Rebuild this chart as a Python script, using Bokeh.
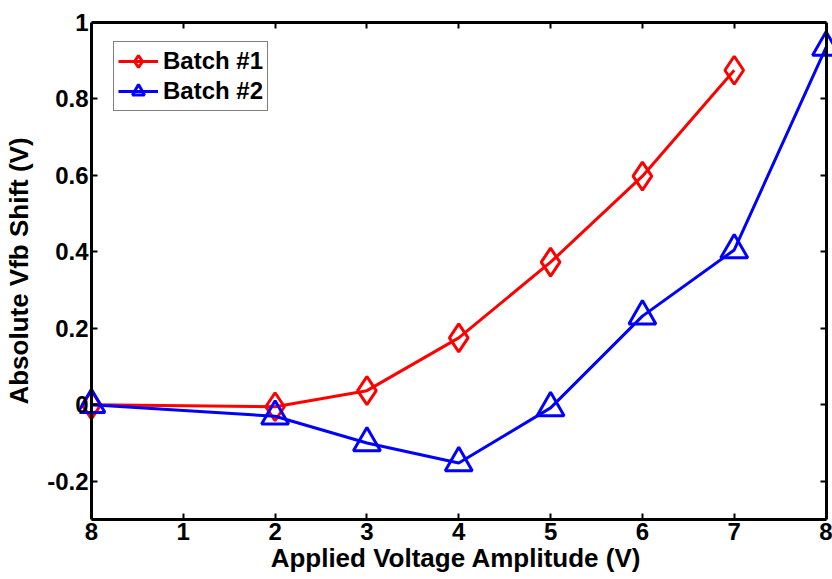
from bokeh.plotting import figure
from bokeh.models import LinearAxis, FixedTicker, Range1d, Legend, LegendItem
from bokeh.embed import file_html
from bokeh.resources import INLINE

x1 = [0, 2, 3, 4, 5, 6, 7]
batch1 = [0.0, -0.005, 0.037, 0.175, 0.373, 0.598, 0.875]
x2 = [0, 2, 3, 4, 5, 6, 7, 8]
batch2 = [0.0, -0.03, -0.10, -0.152, -0.008, 0.232, 0.405, 0.935]
xticks = [0, 1, 2, 3, 4, 5, 6, 7, 8]
xtick_labels = ["8", "1", "2", "3", "4", "5", "6", "7", "8"]
yticks = [-0.2, 0, 0.2, 0.4, 0.6, 0.8, 1]
ytick_labels = ["-0.2", "0", "0.2", "0.4", "0.6", "0.8", "1"]

FONT = "Liberation Sans"

p = figure(width=832, height=579, output_backend="svg", toolbar_location=None,
           x_range=Range1d(-0.13, 8.07), y_range=Range1d(-0.3, 1.0),
           min_border_left=79, min_border_right=0, min_border_top=22, min_border_bottom=60,
           x_axis_type=None, y_axis_type=None)
p.grid.visible = False
p.outline_line_color = None
p.background_fill_color = "white"
p.border_fill_color = "white"


def style_axis(ax, labels):
    ax.axis_line_color = "black"
    ax.axis_line_width = 3
    ax.major_tick_in = 6
    ax.major_tick_out = 0
    ax.major_tick_line_width = 2
    ax.minor_tick_line_color = None
    if labels:
        ax.major_label_text_font = FONT
        ax.major_label_text_font_style = "bold"
        ax.major_label_text_font_size = "24px"
        ax.major_label_text_color = "black"
        ax.axis_label_text_font = FONT
        ax.axis_label_text_font_style = "bold"
        ax.axis_label_text_font_size = "26px"
        ax.axis_label_text_color = "black"
    else:
        ax.major_label_overrides = {t: "" for t in (xticks + yticks)}
        ax.major_label_text_font_size = "1px"
        ax.major_label_text_color = None
        ax.major_label_standoff = 0


xb = LinearAxis(ticker=FixedTicker(ticks=xticks), axis_label="Applied Voltage Amplitude (V)",
                bounds=(0, 8))
style_axis(xb, True)
xb.major_label_overrides = {t: l for t, l in zip(xticks, xtick_labels)}
xb.major_label_standoff = 3
xb.axis_label_standoff = 0
p.add_layout(xb, "below")

# labelled left axis at frame edge (line hidden), labels shifted to sit beside x=0
yl = LinearAxis(ticker=FixedTicker(ticks=yticks), axis_label="Absolute Vfb Shift (V)")
style_axis(yl, True)
yl.axis_line_color = None
yl.major_tick_line_color = None
yl.major_label_overrides = {t: l for t, l in zip(yticks, ytick_labels)}
yl.major_label_standoff = -9
yl.axis_label_standoff = 10
p.add_layout(yl, "left")

# box line and inward ticks at x=0
yl0 = LinearAxis(ticker=FixedTicker(ticks=yticks), fixed_location=0)
style_axis(yl0, False)
p.add_layout(yl0, "left")

xt = LinearAxis(ticker=FixedTicker(ticks=xticks), bounds=(0, 8))
style_axis(xt, False)
p.add_layout(xt, "above")
yr = LinearAxis(ticker=FixedTicker(ticks=yticks), fixed_location=8)
style_axis(yr, False)
p.add_layout(yr, "right")

l1 = p.line(x1, batch1, line_color="red", line_width=3)
m1 = p.scatter(x1, batch1, marker="diamond", size=28, line_color="red", line_width=3, fill_alpha=0)
l2 = p.line(x2, batch2, line_color="blue", line_width=3)
m2 = p.scatter(x2, batch2, marker="triangle", size=27, line_color="blue", line_width=3, fill_alpha=0)

legend = Legend(items=[LegendItem(label="Batch #1", renderers=[l1, m1]),
                       LegendItem(label="Batch #2", renderers=[l2, m2])],
                location=(34, 408))
legend.margin = 0
legend.padding = 4
legend.spacing = 0
legend.glyph_width = 40
legend.glyph_height = 30
legend.label_height = 30
legend.label_standoff = 5
legend.border_line_color = "black"
legend.border_line_width = 1
legend.label_text_font = FONT
legend.label_text_font_style = "bold"
legend.label_text_font_size = "24px"
legend.label_text_color = "black"
p.add_layout(legend)

open("out.html", "w").write(file_html(p, INLINE))
